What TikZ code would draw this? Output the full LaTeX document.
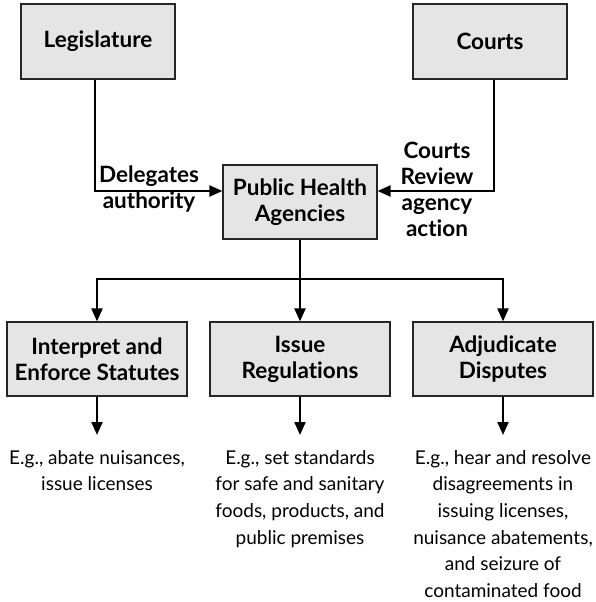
\documentclass[tikz,border=0pt]{standalone}
\usepackage{fontspec}
\setmainfont{Lato}[Ligatures={NoCommon,NoContextual}]
\usetikzlibrary{arrows.meta}
\begin{document}
\begin{tikzpicture}[x=1pt,y=-1pt,
  box/.style={draw=black!85, line width=1.2pt, fill=black!10, align=center, inner sep=0pt,
    font=\bfseries\fontsize{22.5}{26}\selectfont},
  topbox/.style={box, minimum width=154pt, minimum height=75pt},
  lowbox/.style={box, minimum width=180pt, minimum height=74pt},
  lbl/.style={align=center, inner sep=0pt, font=\bfseries\fontsize{22.5}{26}\selectfont},
  note/.style={align=center, inner sep=0pt, anchor=north, font=\fontsize{19}{26.6}\selectfont},
  wire/.style={line width=2.2pt},
  conn/.style={wire, -{Triangle[length=13pt,width=11pt]}}]
\useasboundingbox (0,0) rectangle (596,602);
\fill[white] (0,0) rectangle (596,602);

\node[topbox] (leg) at (98,41.5) {Legislature};
\node[topbox] (crt) at (490,41.5) {Courts};
\node[topbox, minimum height=74pt] (pha) at (300,202) {Public Health\\Agencies};

\node[lowbox] (b1) at (97,359) {Interpret and\\Enforce Statutes};
\node[lowbox] (b2) at (300,359) {Issue\\Regulations};
\node[lowbox] (b3) at (503,359) {Adjudicate\\Disputes};

\draw[conn] ([xshift=-3pt]leg.south) |- ([yshift=11pt]pha.west);
\draw[conn] ([xshift=4pt]crt.south) |- ([yshift=11pt]pha.east);

\node[lbl] (dl) at (149,189.5) {Delegates\\authority};
\node[lbl] (cr) at (437,189) {Courts\\Review\\agency\\action};

\coordinate (hub) at (300,279);
\draw[wire] (pha.south) -- (hub);
\draw[conn] (hub) -| (b1.north);
\draw[conn] (hub) -- (b2.north);
\draw[conn] (hub) -| (b3.north);

\node[note] (e1) at (97,450) {E.g., abate nuisances,\\issue licenses};
\node[note] (e2) at (300,450) {E.g., set standards\\for safe and sanitary\\foods, products, and\\public premises};
\node[note] (e3) at (503,450) {E.g., hear and resolve\\disagreements in\\issuing licenses,\\nuisance abatements,\\and seizure of\\contaminated food};

\draw[conn] (b1.south) -- ([yshift=15pt]e1.north);
\draw[conn] (b2.south) -- ([yshift=15pt]e2.north);
\draw[conn] (b3.south) -- ([yshift=15pt]e3.north);
\end{tikzpicture}
\end{document}
